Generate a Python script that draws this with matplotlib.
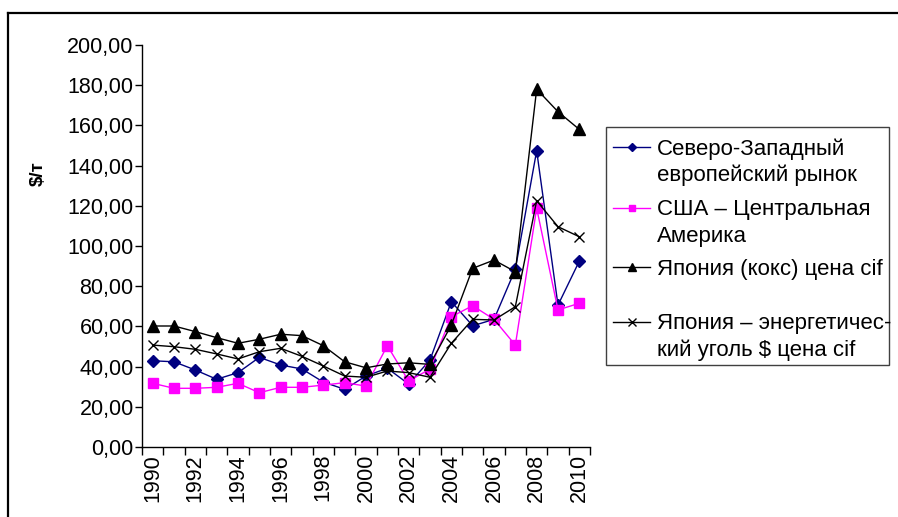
import matplotlib
matplotlib.use("Agg")
import matplotlib.pyplot as plt
from matplotlib.lines import Line2D
from matplotlib.patches import Rectangle
from matplotlib.ticker import FuncFormatter, MultipleLocator

plt.rcParams['font.family'] = ['Liberation Sans', 'DejaVu Sans']

years = list(range(1990, 2011))
nw_europe = [42.9, 42.4, 38.3, 33.7, 37.0, 44.6, 40.8, 38.8, 32.3, 28.7, 35.3,
             39.2, 31.3, 43.3, 72.3, 60.3, 63.5, 88.4, 147.4, 70.6, 92.5]
usa = [31.7, 29.2, 29.2, 29.7, 31.7, 27.0, 29.7, 29.7, 30.8, 32.0, 30.3,
       50.4, 32.8, 38.8, 64.8, 70.3, 63.5, 50.7, 118.8, 68.2, 71.5]
japan_coke = [60.2, 60.2, 57.4, 54.4, 51.6, 53.6, 56.1, 55.4, 50.4, 42.4, 39.4,
              41.3, 41.9, 41.1, 60.7, 88.9, 93.0, 87.2, 178.0, 166.8, 158.0]
japan_steam = [50.7, 49.9, 48.6, 46.3, 43.8, 47.4, 49.1, 45.1, 40.3, 35.3, 34.7,
               37.8, 37.0, 34.7, 51.6, 63.5, 63.2, 69.8, 122.5, 109.6, 104.6]

labels = ["Северо-Западный\nевропейский рынок",
          "США – Центральная\nАмерика",
          "Япония (кокс) цена cif",
          "Япония – энергетичес-\nкий уголь $ цена cif"]
ylabel = "$/т"

W, H = 898, 517
fig = plt.figure(figsize=(W / 100, H / 100), dpi=100)

# outer chart border (left and top visible)
fig.add_artist(Line2D([8 / W, 8 / W], [0, 1 - 13 / H], transform=fig.transFigure,
                      color='black', lw=1.6))
fig.add_artist(Line2D([8 / W, 1], [1 - 13 / H, 1 - 13 / H], transform=fig.transFigure,
                      color='black', lw=1.6))

left, right, top, bottom = 142, 590, 45, 447
ax = fig.add_axes([left / W, 1 - bottom / H, (right - left) / W, (bottom - top) / H])

x = list(range(len(years)))
styles = [
    dict(color='#000080', marker='D', ms=5.8, mfc='#000080', mec='#000080'),
    dict(color='#FF00FF', marker='s', ms=6.5, mfc='#FF00FF', mec='#FF00FF'),
    dict(color='black', marker='^', ms=8, mfc='black', mec='black'),
    dict(color='black', marker='x', ms=7.5, mec='black', mew=1.0),
]
series = [nw_europe, usa, japan_coke, japan_steam]
for s, st in zip(series, styles):
    ax.plot(x, s, lw=1.0, clip_on=False, **st)

ax.set_xlim(-0.5, len(years) - 0.5)
ax.set_ylim(0, 200)
ax.yaxis.set_major_locator(MultipleLocator(20))
ax.yaxis.set_major_formatter(FuncFormatter(lambda v, p: f"{v:.2f}".replace('.', ',')))
ax.set_xticks([i - 0.5 for i in range(len(years) + 1)], minor=False)
ax.set_xticklabels([])
ax.set_xticks(x[::2], minor=True)
ax.set_xticklabels([str(y) for y in years[::2]], minor=True, rotation=90)
ax.tick_params(axis='x', which='major', direction='out', length=6, width=1)
ax.tick_params(axis='x', which='minor', length=0, pad=5, labelsize=15.5)
ax.tick_params(axis='y', direction='out', length=5, width=1, labelsize=15.5, pad=1)
for sp in ['top', 'right']:
    ax.spines[sp].set_visible(False)
ax.spines['left'].set_linewidth(1)
ax.spines['bottom'].set_linewidth(1)

fig.text(38 / W, 1 - 174 / H, ylabel, rotation=90, fontsize=13.5, fontweight='bold',
         ha='center', va='center')

# legend
lx0, ly0, lx1, ly1 = 606, 127, 889, 365
fig.add_artist(Rectangle((lx0 / W, 1 - ly1 / H), (lx1 - lx0) / W, (ly1 - ly0) / H,
                         transform=fig.transFigure, fill=False, ec='#404040', lw=1.0))
rows = [146.5, 207.5, 266.5, 321.5]
line_gap = 26.5
for lab, st, ry in zip(labels, styles, rows):
    yy = 1 - ry / H
    fig.add_artist(Line2D([613 / W, 650 / W], [yy, yy], transform=fig.transFigure,
                          lw=1.0, color=st['color']))
    stm = dict(st)
    stm['ms'] = st['ms'] * 0.75
    stm.pop('color')
    fig.add_artist(Line2D([631.5 / W], [yy], transform=fig.transFigure,
                          linestyle='none', **stm))
    for i, part in enumerate(lab.split('\n')):
        fig.text(657 / W, 1 - (ry + i * line_gap) / H, part, fontsize=16,
                 ha='left', va='center_baseline')

fig.savefig('out.png', dpi=100)
